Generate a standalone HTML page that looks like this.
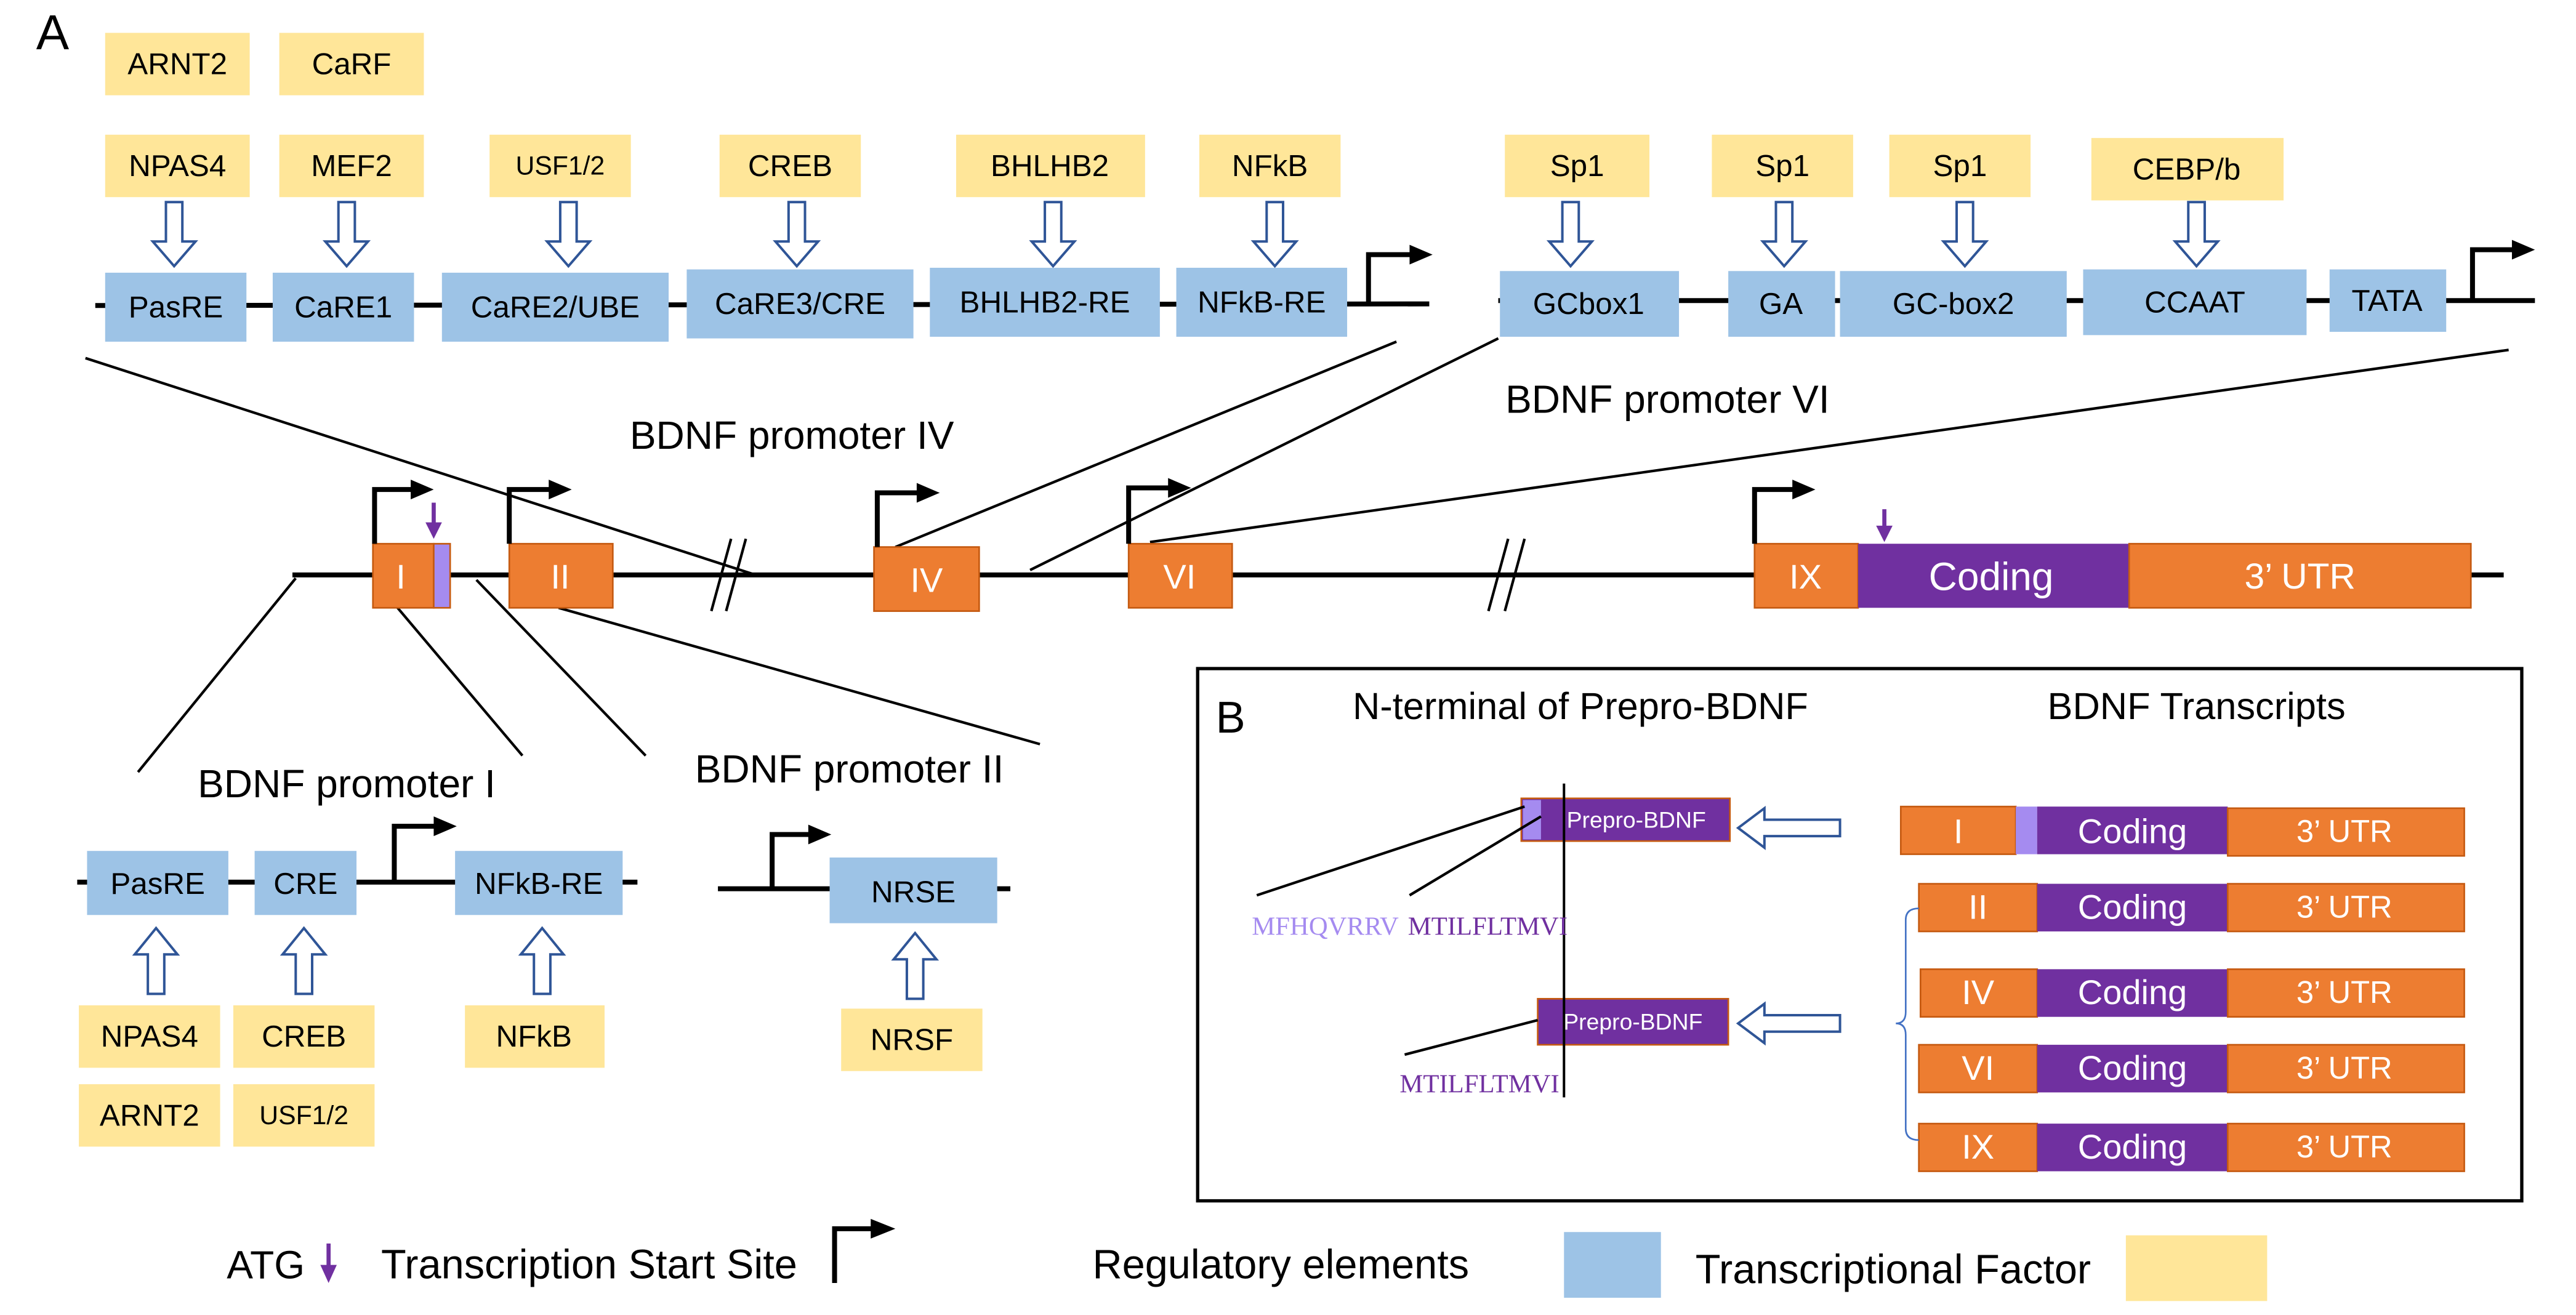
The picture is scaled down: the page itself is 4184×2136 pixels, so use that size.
<!DOCTYPE html>
<html><head><meta charset="utf-8"><style>
html,body{margin:0;padding:0;background:#fff;}
svg{display:block;}
text{font-family:"Liberation Sans",sans-serif;}
.t{font-size:18.5px;fill:#000;text-anchor:middle;dominant-baseline:central;}
.w{font-size:21px;fill:#fff;text-anchor:middle;dominant-baseline:central;}
.y{fill:#FFE699;}
.b{fill:#9DC3E6;}
.o{fill:#ED7D31;stroke:#C55A11;stroke-width:1;}
.p{fill:#7030A0;}
.lp{fill:#A58BF0;}
.ln{stroke:#000;stroke-width:1.6;fill:none;}
.dna{stroke:#000;stroke-width:3;fill:none;}
.ha{fill:#fff;stroke:#2F5597;stroke-width:1.5;}
</style></head><body>
<svg width="4184" height="2136" viewBox="0 0 1568 800.5" preserveAspectRatio="none" xmlns="http://www.w3.org/2000/svg">
<defs>
<g id="dn"><path class="ha" d="M-5,0 h10 v24 h8 l-13,15 l-13,-15 h8 z"/></g>
<g id="up"><path class="ha" d="M-5,40 h10 v-24 h8 l-13,-16 l-13,16 h8 z"/></g>
<g id="la"><path class="ha" d="M62,-5 v10 h-46 v7 l-16,-12 l16,-12 v7 z"/></g>
</defs>
<text x="22" y="30" style="font-size:30px">A</text>

<rect class="y" x="64" y="20" width="88" height="38"/><text class="t" x="108" y="39">ARNT2</text>
<rect class="y" x="170" y="20" width="88" height="38"/><text class="t" x="214" y="39">CaRF</text>
<rect class="y" x="64" y="82" width="88" height="38"/><text class="t" x="108" y="101">NPAS4</text>
<rect class="y" x="170" y="82" width="88" height="38"/><text class="t" x="214" y="101">MEF2</text>
<rect class="y" x="298" y="82" width="86" height="38"/><text class="t" x="341" y="101" style="font-size:16px">USF1/2</text>
<rect class="y" x="438" y="82" width="86" height="38"/><text class="t" x="481" y="101">CREB</text>
<rect class="y" x="582" y="82" width="115" height="38"/><text class="t" x="639" y="101">BHLHB2</text>
<rect class="y" x="730" y="82" width="86" height="38"/><text class="t" x="773" y="101">NFkB</text>
<use href="#dn" x="106" y="123"/><use href="#dn" x="211" y="123"/><use href="#dn" x="346" y="123"/>
<use href="#dn" x="485" y="123"/><use href="#dn" x="641" y="123"/><use href="#dn" x="776" y="123"/>
<line class="dna" x1="58" y1="186" x2="870" y2="185"/>
<rect class="b" x="64" y="166" width="86" height="42"/><text class="t" x="107" y="187">PasRE</text>
<rect class="b" x="166" y="166" width="86" height="42"/><text class="t" x="209" y="187">CaRE1</text>
<rect class="b" x="269" y="166" width="138" height="42"/><text class="t" x="338" y="187">CaRE2/UBE</text>
<rect class="b" x="418" y="164" width="138" height="42"/><text class="t" x="487" y="185">CaRE3/CRE</text>
<rect class="b" x="566" y="163" width="140" height="42"/><text class="t" x="636" y="184">BHLHB2-RE</text>
<rect class="b" x="716" y="163" width="104" height="42"/><text class="t" x="768" y="184">NFkB-RE</text>
<polyline class="dna" points="833,185 833,155 860,155"/><path d="M858,149 L872,155 L858,161 Z"/>

<rect class="y" x="916" y="82" width="88" height="38"/><text class="t" x="960" y="101">Sp1</text>
<rect class="y" x="1042" y="82" width="86" height="38"/><text class="t" x="1085" y="101">Sp1</text>
<rect class="y" x="1150" y="82" width="86" height="38"/><text class="t" x="1193" y="101">Sp1</text>
<rect class="y" x="1273" y="84" width="117" height="38"/><text class="t" x="1331" y="103">CEBP/b</text>
<use href="#dn" x="956" y="123"/><use href="#dn" x="1086" y="123"/><use href="#dn" x="1196" y="123"/><use href="#dn" x="1337" y="123"/>
<line class="dna" x1="912" y1="183" x2="1543" y2="183"/>
<rect class="b" x="913" y="165" width="109" height="40"/><text class="t" x="967" y="185">GCbox1</text>
<rect class="b" x="1052" y="165" width="65" height="40"/><text class="t" x="1084" y="185">GA</text>
<rect class="b" x="1120" y="165" width="138" height="40"/><text class="t" x="1189" y="185">GC-box2</text>
<rect class="b" x="1268" y="164" width="136" height="40"/><text class="t" x="1336" y="184">CCAAT</text>
<rect class="b" x="1418" y="164" width="71" height="38"/><text class="t" x="1453" y="183">TATA</text>
<polyline class="dna" points="1505,183 1505,152 1531,152"/><path d="M1529,146 L1543,152 L1529,158 Z"/>

<text x="482" y="265" style="font-size:24px;text-anchor:middle;dominant-baseline:central">BDNF promoter IV</text>
<text x="1015" y="243" style="font-size:24px;text-anchor:middle;dominant-baseline:central">BDNF promoter VI</text>

<line class="ln" x1="52" y1="218" x2="460" y2="350"/>
<line class="ln" x1="850" y1="208" x2="545" y2="333"/>
<line class="ln" x1="627" y1="347" x2="912" y2="206"/>
<line class="ln" x1="700" y1="330" x2="1527" y2="213"/>
<line class="ln" x1="180" y1="352" x2="84" y2="470"/>
<line class="ln" x1="242" y1="370" x2="318" y2="460"/>
<line class="ln" x1="290" y1="353" x2="393" y2="460"/>
<line class="ln" x1="340" y1="370" x2="633" y2="453"/>

<line class="dna" x1="178" y1="350" x2="1524" y2="350"/>
<line class="ln" x1="433" y1="372" x2="445" y2="328"/><line class="ln" x1="442" y1="372" x2="454" y2="328"/>
<line class="ln" x1="906" y1="372" x2="918" y2="328"/><line class="ln" x1="916" y1="372" x2="928" y2="328"/>
<rect class="o" x="227" y="331" width="37" height="39"/><text class="w" x="244" y="351">I</text>
<rect class="lp" x="264" y="331" width="10" height="39" stroke="#C55A11"/>
<rect class="o" x="310" y="331" width="63" height="39"/><text class="w" x="341" y="351">II</text>
<rect class="o" x="532" y="333" width="64" height="39"/><text class="w" x="564" y="353">IV</text>
<rect class="o" x="687" y="331" width="63" height="39"/><text class="w" x="718" y="351">VI</text>
<rect class="o" x="1068" y="331" width="63" height="39"/><text class="w" x="1099" y="351">IX</text>
<rect class="p" x="1131" y="331" width="165" height="39"/><text class="w" x="1212" y="351" style="font-size:24px">Coding</text>
<rect class="o" x="1296" y="331" width="208" height="39"/><text class="w" x="1400" y="351" style="font-size:22px">3’ UTR</text>
<polyline class="dna" points="228,331 228,298 252,298"/><path d="M250,292 L264,298 L250,304 Z"/>
<polyline class="dna" points="310,331 310,298 336,298"/><path d="M334,292 L348,298 L334,304 Z"/>
<polyline class="dna" points="534,333 534,300 560,300"/><path d="M558,294 L572,300 L558,306 Z"/>
<polyline class="dna" points="687,331 687,297 713,297"/><path d="M711,291 L725,297 L711,303 Z"/>
<polyline class="dna" points="1068,331 1068,298 1093,298"/><path d="M1091,292 L1105,298 L1091,304 Z"/>
<line x1="264" y1="306" x2="264" y2="320" stroke="#7030A0" stroke-width="2.5"/><path d="M259,318 L269,318 L264,328 Z" fill="#7030A0"/>
<line x1="1147" y1="310" x2="1147" y2="322" stroke="#7030A0" stroke-width="2.5"/><path d="M1142,320 L1152,320 L1147,330 Z" fill="#7030A0"/>

<text x="211" y="477" style="font-size:24px;text-anchor:middle;dominant-baseline:central">BDNF promoter I</text>
<line class="dna" x1="47" y1="537" x2="388" y2="537"/>
<rect class="b" x="53" y="518" width="86" height="39"/><text class="t" x="96" y="538">PasRE</text>
<rect class="b" x="155" y="518" width="62" height="39"/><text class="t" x="186" y="538">CRE</text>
<rect class="b" x="277" y="518" width="102" height="39"/><text class="t" x="328" y="538">NFkB-RE</text>
<polyline class="dna" points="240,537 240,503 266,503"/><path d="M264,497 L278,503 L264,509 Z"/>
<use href="#up" x="95" y="565"/><use href="#up" x="185" y="565"/><use href="#up" x="330" y="565"/>
<rect class="y" x="48" y="612" width="86" height="38"/><text class="t" x="91" y="631">NPAS4</text>
<rect class="y" x="142" y="612" width="86" height="38"/><text class="t" x="185" y="631">CREB</text>
<rect class="y" x="283" y="612" width="85" height="38"/><text class="t" x="325" y="631">NFkB</text>
<rect class="y" x="48" y="660" width="86" height="38"/><text class="t" x="91" y="679">ARNT2</text>
<rect class="y" x="142" y="660" width="86" height="38"/><text class="t" x="185" y="679" style="font-size:16px">USF1/2</text>

<text x="517" y="468" style="font-size:24px;text-anchor:middle;dominant-baseline:central">BDNF promoter II</text>
<line class="dna" x1="437" y1="541" x2="615" y2="541"/>
<rect class="b" x="505" y="522" width="102" height="40"/><text class="t" x="556" y="543">NRSE</text>
<polyline class="dna" points="470,541 470,508 494,508"/><path d="M492,502 L506,508 L492,514 Z"/>
<use href="#up" x="557" y="568"/>
<rect class="y" x="512" y="614" width="86" height="38"/><text class="t" x="555" y="633">NRSF</text>

<rect x="729" y="407" width="806" height="324" fill="none" stroke="#000" stroke-width="2"/>
<text x="740" y="446" style="font-size:27px">B</text>
<text x="962" y="430" style="font-size:23px;text-anchor:middle;dominant-baseline:central">N-terminal of Prepro-BDNF</text>
<text x="1337" y="430" style="font-size:23px;text-anchor:middle;dominant-baseline:central">BDNF Transcripts</text>
<rect class="p" x="926" y="486" width="127" height="26" stroke="#C55A11"/>
<rect class="lp" x="927" y="487" width="11" height="24"/>
<text x="996" y="499" style="font-size:14px;fill:#fff;text-anchor:middle;dominant-baseline:central">Prepro-BDNF</text>
<rect class="p" x="936" y="608" width="116" height="28" stroke="#C55A11"/>
<text x="994" y="622" style="font-size:14px;fill:#fff;text-anchor:middle;dominant-baseline:central">Prepro-BDNF</text>
<line x1="952" y1="477" x2="952" y2="668" stroke="#000" stroke-width="1.5"/>
<use href="#la" x="1058" y="504"/><use href="#la" x="1058" y="623"/>
<line class="ln" x1="928" y1="491" x2="765" y2="545"/>
<line class="ln" x1="938" y1="497" x2="858" y2="545"/>
<line class="ln" x1="936" y1="621" x2="855" y2="642"/>
<text x="762" y="569" style="font-family:'Liberation Serif',serif;font-size:16px;fill:#A58BF0">MFHQVRRV</text>
<text x="857" y="569" style="font-family:'Liberation Serif',serif;font-size:16px;fill:#7030A0">MTILFLTMVI</text>
<text x="852" y="665" style="font-family:'Liberation Serif',serif;font-size:16px;fill:#7030A0">MTILFLTMVI</text>

<rect class="o" x="1157" y="491" width="70" height="29"/><text class="w" x="1192" y="506">I</text>
<rect class="lp" x="1227" y="491" width="13" height="29"/>
<rect class="p" x="1240" y="491" width="116" height="29"/><text class="w" x="1298" y="506">Coding</text>
<rect class="o" x="1356" y="492" width="144" height="29"/><text class="w" x="1427" y="506" style="font-size:19px">3’ UTR</text>

<rect class="o" x="1168" y="538" width="72" height="29"/><text class="w" x="1204" y="552">II</text>
<rect class="p" x="1240" y="538" width="116" height="29"/><text class="w" x="1298" y="552">Coding</text>
<rect class="o" x="1356" y="538" width="144" height="29"/><text class="w" x="1427" y="552" style="font-size:19px">3’ UTR</text>

<rect class="o" x="1169" y="590" width="71" height="29"/><text class="w" x="1204" y="604">IV</text>
<rect class="p" x="1240" y="590" width="116" height="29"/><text class="w" x="1298" y="604">Coding</text>
<rect class="o" x="1356" y="590" width="144" height="29"/><text class="w" x="1427" y="604" style="font-size:19px">3’ UTR</text>

<rect class="o" x="1168" y="636" width="72" height="29"/><text class="w" x="1204" y="650">VI</text>
<rect class="p" x="1240" y="636" width="116" height="29"/><text class="w" x="1298" y="650">Coding</text>
<rect class="o" x="1356" y="636" width="144" height="29"/><text class="w" x="1427" y="650" style="font-size:19px">3’ UTR</text>

<rect class="o" x="1168" y="684" width="72" height="29"/><text class="w" x="1204" y="698">IX</text>
<rect class="p" x="1240" y="684" width="116" height="29"/><text class="w" x="1298" y="698">Coding</text>
<rect class="o" x="1356" y="684" width="144" height="29"/><text class="w" x="1427" y="698" style="font-size:19px">3’ UTR</text>
<path d="M1168,553 Q1160,553 1160,560 L1160,616 Q1160,623 1154,623 Q1160,623 1160,630 L1160,687 Q1160,694 1168,694" fill="none" stroke="#4472C4" stroke-width="1"/>

<text x="138" y="770" style="font-size:24px;dominant-baseline:central">ATG</text>
<line x1="200" y1="757" x2="200" y2="772" stroke="#7030A0" stroke-width="2.5"/><path d="M195,770 L205,770 L200,781 Z" fill="#7030A0"/>
<text x="232" y="770" style="font-size:25px;dominant-baseline:central">Transcription Start Site</text>
<polyline class="dna" points="508,781 508,748 532,748"/><path d="M530,742 L545,748 L530,754 Z"/>
<text x="665" y="770" style="font-size:25px;dominant-baseline:central">Regulatory elements</text>
<rect class="b" x="952" y="750" width="59" height="40"/>
<text x="1032" y="773" style="font-size:25px;dominant-baseline:central">Transcriptional Factor</text>
<rect class="y" x="1294" y="752" width="86" height="40"/>
</svg>
</body></html>
